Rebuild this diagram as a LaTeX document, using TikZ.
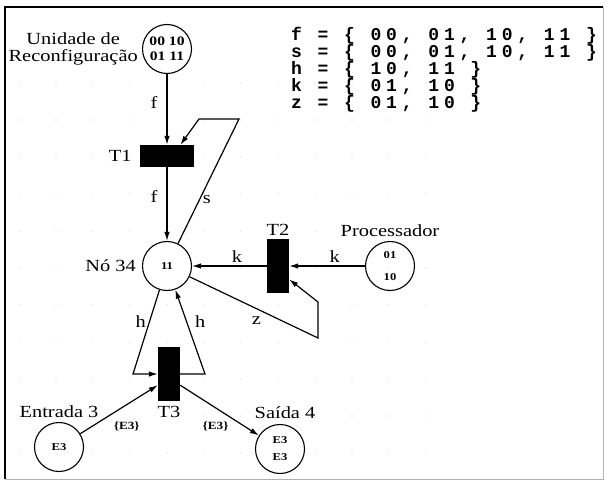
\documentclass[tikz,border=0pt]{standalone}
\usepackage{fontspec}
\setmainfont[FakeStretch=1.2]{Liberation Serif}
\newfontfamily\setfont[LetterSpace=27]{Liberation Mono}
\usetikzlibrary{arrows.meta, positioning}

\begin{document}
\begin{tikzpicture}[
    x=1pt, y=-1pt,
    font=\fontsize{17}{18}\selectfont,
    place/.style={
      circle,
      draw,
      line width=1.1pt,
      minimum size=49pt,
      inner sep=0pt,
      align=center,
      font=\fontsize{10.5}{12}\selectfont\bfseries
    },
    trans/.style={
      rectangle,
      fill=black,
      inner sep=0pt
    },
    htrans/.style={
      trans,
      minimum width=54pt,
      minimum height=22pt
    },
    vtrans/.style={
      trans,
      minimum width=22pt,
      minimum height=54pt
    },
    lbl/.style={
      inner sep=1pt,
      align=center,
      font=\fontsize{17}{17.5}\selectfont
    },
    arclbl/.style={
      inner sep=3pt,
      font=\fontsize{17}{17}\selectfont
    },
    toklbl/.style={
      inner sep=0pt,
      font=\fontsize{11}{12}\selectfont\bfseries
    },
    arrow/.style={
      -{Latex[length=9pt, width=5.5pt]},
      line width=1.2pt
    }
  ]

    \useasboundingbox (0,0) rectangle (607,486);

    % Grid of the editor
    \foreach \gx in {0,...,11}
      \foreach \gy in {0,...,10}
        \fill[gray!45] (19+37*\gx, 83+37*\gy) circle (0.7pt);

    % Frame
    \draw[line width=1.3pt] (5,479) -- (5,7) -- (603,7);
    \draw[gray!60, line width=1pt] (603,7) -- (603,479) -- (5,479);

    % Places
    \node[place, font=\fontsize{13}{13}\selectfont\bfseries] (uni) at (167,49) {00 10\\[2pt]01 11};
    \node[place] (no34) at (167,266) {11};
    \node[place] (proc) at (390,266) {01\\[10pt]10};
    \node[place] (ent) at (59,447) {E3};
    \node[place] (sai) at (280,449) {E3\\[5pt]E3};

    % Transitions
    \node[htrans] (t1) at (167,156) {};
    \node[vtrans] (t2) at (278,266) {};
    \node[vtrans] (t3) at (169,374) {};

    % Labels
    \node[lbl, left=3pt of uni] (unilbl) {Unidade de\\Reconfiguração};
    \node[lbl, left=5pt of no34] (no34lbl) {Nó 34};
    \node[lbl, above=3pt of proc] (proclbl) {Processador};
    \node[lbl, above=3pt of ent] (entlbl) {Entrada 3};
    \node[lbl, above=4pt of sai, xshift=5pt] (sailbl) {Saída 4};
    \node[lbl, left=7pt of t1] (t1lbl) {T1};
    \node[lbl, above=2pt of t2] (t2lbl) {T2};
    \node[lbl, below=4pt of t3] (t3lbl) {T3};

    % Colour sets
    \node[anchor=north west, inner sep=0pt, align=left,
      font=\setfont\bfseries\fontsize{18}{17}\selectfont] (sets) at (291,27)
      {f = \{ 00, 01, 10, 11 \}\\
       s = \{ 00, 01, 10, 11 \}\\
       h = \{ 10, 11 \}\\
       k = \{ 01, 10 \}\\
       z = \{ 01, 10 \}};

    % Corners of the bent arcs
    \coordinate (sc1) at (239,119);
    \coordinate (sc2) at (199,119);
    \coordinate (zc1) at (318,338);
    \coordinate (zc2) at (318,302);
    \coordinate (hc1) at (133,374);
    \coordinate (hc2) at (205,374);

    % Arcs
    \draw[arrow] (uni) -- node[arclbl, left=6pt, pos=0.4] {f} (t1);
    \draw[arrow] (t1) -- node[arclbl, left=6pt, pos=0.4] {f} (no34);
    \draw[arrow] (no34) -- node[arclbl, right, pos=0.35] {s} (sc1) -- (sc2) -- (t1.40);

    \draw[arrow] (proc) -- node[arclbl, above, pos=0.4] {k} (t2);
    \draw[arrow] (t2) -- node[arclbl, above, pos=0.4] {k} (no34);
    \draw[arrow] (no34) -- node[arclbl, below=4pt, pos=0.52] {z} (zc1) -- (zc2) -- (t2.-50);

    \draw[arrow] (no34) -- node[arclbl, left, pos=0.38] {h} (hc1) -- (t3.west);
    \draw[arrow] (t3.east) -- (hc2) -- node[arclbl, right=5pt, pos=0.62] {h} (no34);

    \draw[arrow] (ent) -- node[toklbl, below=17pt, pos=0.6] {\{E3\}} (t3.-135);
    \draw[arrow] (t3.-45) -- node[toklbl, below=13pt, pos=0.45] {\{E3\}} (sai);

  \end{tikzpicture}
\end{document}
